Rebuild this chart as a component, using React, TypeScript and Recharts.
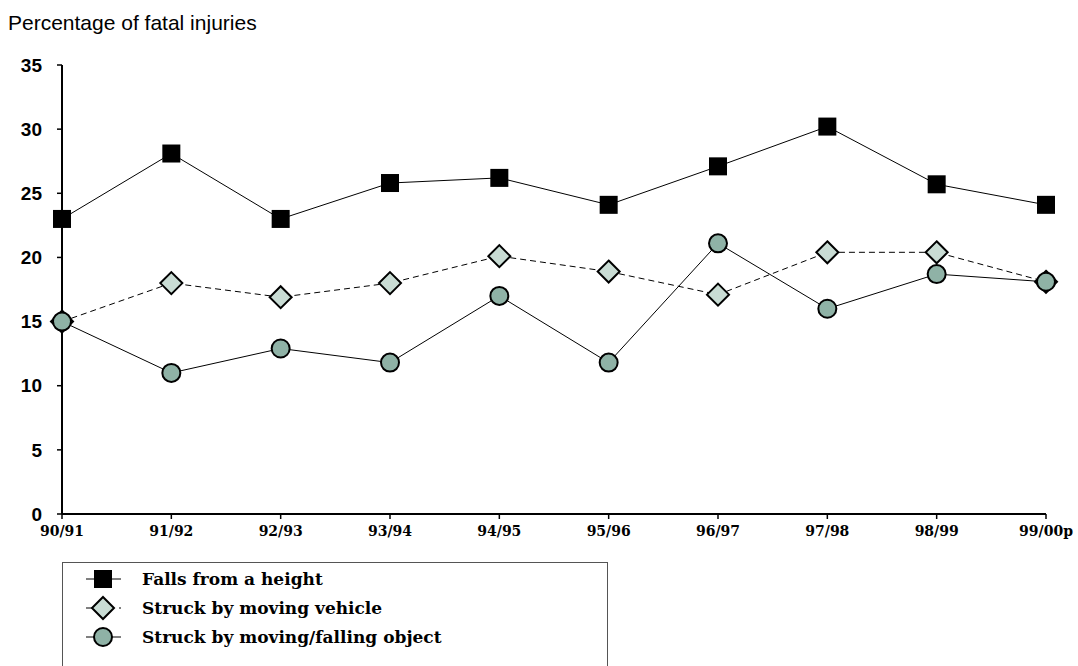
import { LineChart, Line, XAxis, YAxis } from 'recharts';

const YEARS = ['90/91', '91/92', '92/93', '93/94', '94/95', '95/96', '96/97', '97/98', '98/99', '99/00p'];
const FALLS = [23, 28.1, 23, 25.8, 26.2, 24.1, 27.1, 30.2, 25.7, 24.1];
const VEHICLE = [15, 18, 16.9, 18, 20.1, 18.9, 17.1, 20.4, 20.4, 18.1];
const OBJECT = [15, 11, 12.9, 11.8, 17, 11.8, 21.1, 16, 18.7, 18.1];
const Y_TICKS = [0, 5, 10, 15, 20, 25, 30, 35];

const SERIES = [
  { key: 'falls', name: 'Falls from a height', dash: undefined as string | undefined, marker: 'square' },
  { key: 'vehicle', name: 'Struck by moving vehicle', dash: '6 4', marker: 'diamond' },
  { key: 'object', name: 'Struck by moving/falling object', dash: undefined, marker: 'circle' },
];

const data = YEARS.map((y, i) => ({ year: y, falls: FALLS[i], vehicle: VEHICLE[i], object: OBJECT[i] }));

const SERIF = '"DejaVu Serif", "Liberation Serif", serif';
const SANS = '"Liberation Sans", Arial, sans-serif';

const Marker = ({ type, cx, cy }: { type: string; cx: number; cy: number }) => {
  if (type === 'square') {
    return <rect x={cx - 9} y={cy - 9} width={18} height={18} fill="#000" />;
  }
  if (type === 'diamond') {
    const r = 11;
    return (
      <polygon
        points={`${cx},${cy - r} ${cx + r},${cy} ${cx},${cy + r} ${cx - r},${cy}`}
        fill="#c9dcd4"
        stroke="#000"
        strokeWidth={2}
      />
    );
  }
  return <circle cx={cx} cy={cy} r={9} fill="#8fb2a6" stroke="#000" strokeWidth={2} />;
};

const makeDot = (type: string) => (props: any) => {
  if (props.cx == null || props.cy == null) return <g key={`${type}-${props.index}`} />;
  return (
    <g key={`${type}-${props.index}`}>
      <Marker type={type} cx={props.cx} cy={props.cy} />
    </g>
  );
};

const LegendBox = () => (
  <div
    style={{
      position: 'absolute',
      left: 62,
      top: 562,
      border: '1px solid #555',
      width: 546,
      height: 120,
      boxSizing: 'border-box',
      paddingTop: 1,
      fontFamily: SERIF,
      fontWeight: 'bold',
      fontSize: 17,
      background: '#fff',
    }}
  >
    {SERIES.map((s) => (
      <div key={s.key} style={{ display: 'flex', alignItems: 'center', height: 29 }}>
        <svg width={58} height={26} style={{ marginLeft: 21, flex: 'none' }}>
          <line x1={2} y1={13} x2={37} y2={13} stroke="#000" strokeWidth={1} strokeDasharray={s.dash ? '7 26 2' : undefined} />
          <Marker type={s.marker} cx={19} cy={13} />
        </svg>
        <span style={{ whiteSpace: 'nowrap' }}>{s.name}</span>
      </div>
    ))}
  </div>
);

export default function App() {
  return (
    <div style={{ position: 'absolute', left: 0, top: 0, width: 1078, height: 666, background: '#fff', overflow: 'hidden' }}>
      <div
        style={{
          position: 'absolute',
          left: 8,
          top: 12,
          fontFamily: SANS,
          fontSize: 21,
          lineHeight: '21px',
          color: '#000',
        }}
      >
        Percentage of fatal injuries
      </div>
      <LineChart width={1078} height={666} data={data} margin={{ top: 65, right: 32, left: 0, bottom: 122 }}>
        <XAxis
          dataKey="year"
          height={30}
          axisLine={{ stroke: '#000', strokeWidth: 2 }}
          tickLine={{ stroke: '#000', strokeWidth: 1.5 }}
          tickSize={5}
          tickMargin={7}
          interval={0}
          tick={{ fill: '#000', fontSize: 14, fontWeight: 'bold', fontFamily: SERIF }}
        />
        <YAxis
          domain={[0, 35]}
          ticks={Y_TICKS}
          width={62}
          axisLine={{ stroke: '#000', strokeWidth: 2 }}
          tickLine={{ stroke: '#000', strokeWidth: 1.5 }}
          tickSize={5}
          tickMargin={15}
          tick={{ fill: '#000', fontSize: 19, fontWeight: 'bold', fontFamily: SANS }}
        />
        {SERIES.map((s) => (
          <Line
            key={s.key}
            type="linear"
            dataKey={s.key}
            name={s.name}
            stroke="#000"
            strokeWidth={1}
            strokeDasharray={s.dash}
            dot={makeDot(s.marker)}
            activeDot={false}
            isAnimationActive={false}
          />
        ))}
      </LineChart>
      <LegendBox />
    </div>
  );
}
